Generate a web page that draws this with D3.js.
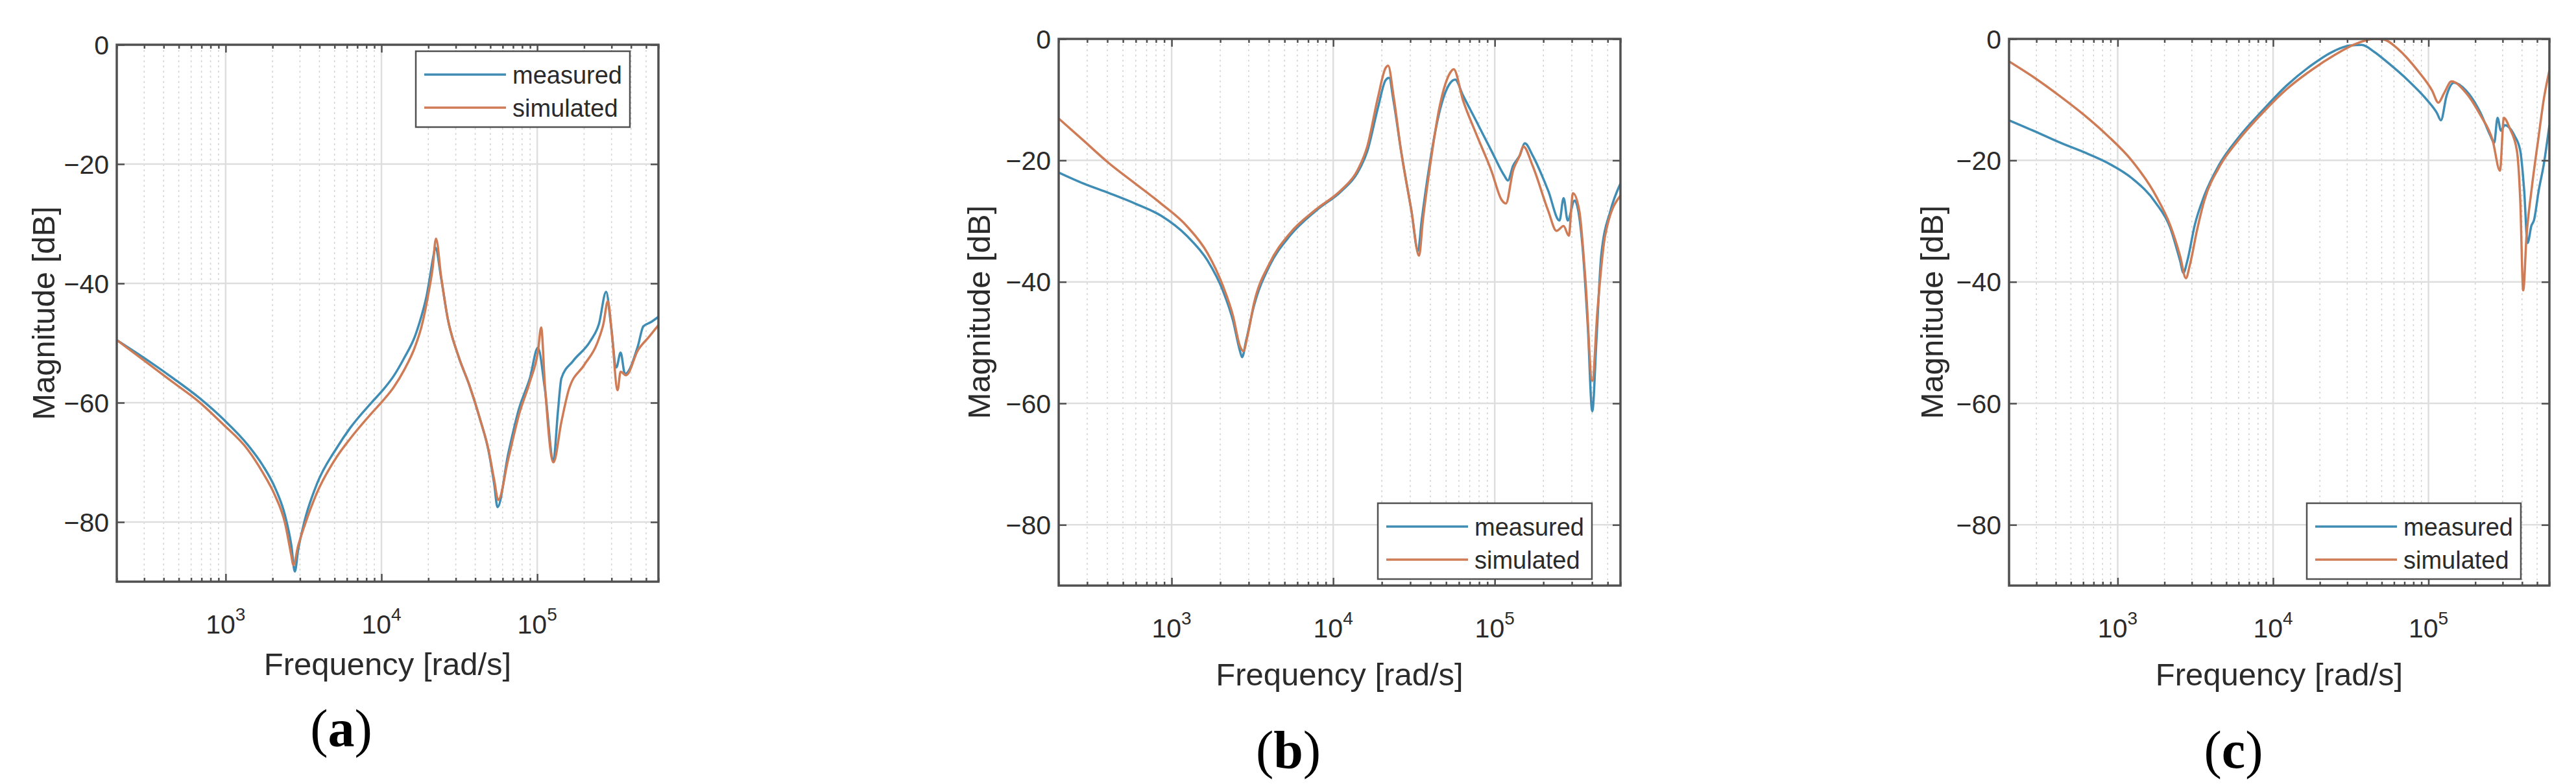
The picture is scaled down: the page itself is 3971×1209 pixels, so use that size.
<!DOCTYPE html>
<html>
<head>
<meta charset="utf-8">
<script src="https://d3js.org/d3.v7.min.js"></script>
<style>
html, body { margin: 0; padding: 0; background: #fff; }
svg { display: block; }
text { font-family: "Liberation Sans", Arial, Helvetica, sans-serif; fill: #2b2b2b; }
</style>
</head>
<body>
<svg id="chart" width="3971" height="1209"></svg>
<script>
// values (frequency in rad/s, magnitude in dB)
var freqMeasA = [200, 320, 460, 670, 960, 1390, 1730, 2070, 2400, 2640, 2780, 2920, 3220, 3870, 5190, 6310, 8690, 10200, 12000, 14000, 16500, 18100, 19600, 20600, 21600, 22200, 24200, 26600, 31300, 36600, 43000, 48800, 53000, 55600, 65100, 76400, 89700, 101000, 112000, 127000, 136000, 143000, 170000, 219000, 249000, 277000, 297000, 322000, 343000, 366000, 443000, 480000, 537000, 600000];
var magMeasA = [-49.5, -53.0, -55.9, -59.1, -62.7, -67.1, -70.5, -74.2, -78.8, -83.9, -88.3, -84.7, -79.7, -73.5, -67.5, -64.2, -59.9, -57.9, -55.5, -52.5, -48.7, -45.4, -41.8, -38.5, -35.3, -34.0, -39.2, -45.8, -52.3, -57.0, -62.8, -68.2, -73.7, -77.5, -68.6, -61.0, -55.9, -50.8, -57.7, -69.7, -61.3, -55.9, -53.0, -49.7, -46.8, -41.4, -46.8, -54.1, -51.6, -55.2, -50.5, -47.2, -46.5, -45.6];
var freqSimA = [200, 320, 460, 670, 960, 1390, 1730, 2070, 2400, 2640, 2720, 2920, 3220, 3870, 5190, 6310, 8690, 10200, 12000, 14000, 16500, 18100, 19900, 21300, 22400, 24200, 26600, 31300, 36600, 43000, 48800, 53000, 56200, 65100, 76400, 89700, 101000, 106000, 112000, 127000, 143000, 160000, 200000, 242000, 266000, 284000, 302000, 328000, 343000, 372000, 443000, 520000, 600000];
var magSimA = [-49.5, -53.5, -56.6, -59.8, -63.6, -67.9, -71.7, -75.5, -80.1, -85.6, -87.2, -84.0, -80.5, -75.0, -69.0, -66.0, -61.7, -59.7, -57.4, -54.5, -50.5, -47.2, -42.1, -37.5, -32.5, -39.0, -45.8, -52.3, -57.0, -62.8, -68.0, -73.0, -76.3, -69.5, -62.0, -56.5, -51.5, -47.4, -57.0, -70.0, -63.2, -57.7, -53.7, -50.1, -46.8, -43.0, -48.7, -57.9, -54.8, -55.4, -51.2, -49.0, -47.0];

var freqMeasB = [200, 284, 411, 594, 859, 1240, 1670, 2080, 2400, 2650, 2730, 2890, 3230, 4030, 5400, 7810, 11300, 14100, 16300, 18900, 21100, 22200, 23600, 26300, 30500, 33500, 35300, 39400, 45700, 52900, 56900, 63600, 76400, 95300, 114600, 120600, 129800, 142800, 153700, 171700, 214300, 251600, 266800, 283000, 311800, 349100, 376600, 401600, 425900, 456000, 520000, 600000];
var magMeasB = [-22.0, -23.8, -25.4, -27.1, -29.1, -32.4, -36.5, -41.5, -46.4, -51.4, -52.4, -49.7, -44.0, -37.4, -32.4, -28.3, -25.0, -22.1, -18.4, -11.4, -6.8, -6.4, -10.1, -18.4, -28.3, -34.9, -29.9, -20.9, -11.8, -7.3, -6.7, -9.3, -13.4, -18.4, -22.5, -23.3, -20.9, -19.2, -17.2, -19.2, -25.0, -29.9, -26.2, -29.9, -26.6, -34.1, -47.3, -61.3, -49.7, -35.7, -28.3, -23.8];
var freqSimB = [200, 284, 411, 594, 859, 1240, 1670, 2080, 2400, 2650, 2780, 2950, 3230, 4030, 5400, 7810, 11300, 14100, 16300, 18900, 21100, 21900, 23600, 26300, 30500, 34000, 35900, 39400, 45700, 52900, 55700, 63600, 76400, 95300, 110900, 117200, 129800, 142800, 150200, 171700, 214300, 241200, 266800, 287200, 304800, 333800, 364600, 401600, 432000, 482000, 600000];
var magSimB = [-13.1, -16.7, -20.5, -23.8, -27.1, -30.8, -35.3, -40.7, -45.6, -50.6, -51.4, -48.9, -43.6, -37.0, -32.0, -28.1, -24.8, -21.7, -17.6, -9.7, -4.8, -4.4, -9.3, -18.4, -28.3, -35.7, -29.9, -21.7, -11.0, -5.6, -5.0, -10.1, -15.5, -21.7, -26.6, -27.1, -21.7, -19.2, -17.7, -20.9, -28.3, -31.6, -30.8, -32.4, -25.4, -28.3, -39.8, -56.3, -44.8, -32.4, -25.8];

var freqMeasC = [200, 292, 419, 600, 859, 1230, 1760, 2180, 2520, 2650, 2810, 3130, 3610, 4480, 5970, 8550, 12200, 17500, 25100, 31100, 37200, 44600, 55300, 73700, 98200, 113400, 120200, 130900, 145900, 174600, 216400, 250000, 264800, 278200, 292600, 309800, 357400, 389600, 412700, 434100, 460200, 476700, 512600, 550800, 600000];
var magMeasC = [-13.4, -15.2, -17.0, -18.6, -20.4, -22.9, -27.0, -31.1, -36.5, -38.5, -36.5, -30.7, -25.8, -20.8, -16.3, -11.8, -7.7, -4.4, -1.9, -1.1, -1.0, -2.1, -4.0, -6.8, -10.1, -12.2, -13.4, -9.3, -7.2, -8.5, -12.2, -15.9, -17.1, -13.0, -15.1, -14.2, -15.9, -18.4, -24.9, -33.6, -30.7, -29.9, -24.9, -20.8, -14.2];
var freqSimC = [200, 292, 419, 600, 859, 1230, 1760, 2180, 2520, 2750, 2910, 3240, 3610, 4480, 5970, 8550, 12200, 17500, 25100, 33400, 44600, 51500, 63900, 85100, 105500, 115800, 126200, 140600, 174600, 216400, 258800, 288400, 305500, 333000, 370700, 389600, 407000, 427700, 460200, 512600, 550800, 600000];
var magSimC = [-3.7, -6.4, -9.3, -12.4, -15.9, -20.0, -25.8, -30.7, -35.7, -39.4, -37.3, -31.5, -26.6, -21.2, -16.7, -12.2, -8.3, -5.2, -2.6, -0.9, 0.0, -0.1, -1.7, -5.2, -8.5, -10.5, -8.9, -7.0, -8.9, -12.6, -16.7, -21.7, -13.0, -14.7, -18.4, -26.6, -41.4, -32.4, -24.9, -15.9, -10.1, -5.2];

var freqDomain = [200, 600000];
var magDomain = [-90, 0];
var xMajorTicks = [1e3, 1e4, 1e5];
var xTickExponents = ["3", "4", "5"];
var yTicks = [0, -20, -40, -60, -80];
var yTickLabels = ["0", "\u221220", "\u221240", "\u221260", "\u221280"];
var seriesNames = ["measured", "simulated"];
var seriesColors = ["#3f8db5", "#cf7b55"];
var panelLetters = ["a", "b", "c"];
var xAxisTitle = "Frequency [rad/s]";
var yAxisTitle = "Magnitude [dB]";

var panelSeries = [
  [[freqMeasA, magMeasA], [freqSimA, magSimA]],
  [[freqMeasB, magMeasB], [freqSimB, magSimB]],
  [[freqMeasC, magMeasC], [freqSimC, magSimC]]
];

var layout = [
  {left: 180, right: 1015, top: 69, bottom: 897, legend: "top", xlabelDy: 144, letterX: 526, letterY: 1151, ylabelOff: 96},
  {left: 1632, right: 2498, top: 60, bottom: 903, legend: "bottom", xlabelDy: 154, letterX: 1986, letterY: 1184, ylabelOff: 106},
  {left: 3097, right: 3930, top: 60, bottom: 903, legend: "bottom", xlabelDy: 154, letterX: 3443, letterY: 1184, ylabelOff: 102}
];

var svg = d3.select("#chart");
var defs = svg.append("defs");
var axisColor = "#505050";

function isDecade(t) {
  var l = Math.log10(t);
  return Math.abs(l - Math.round(l)) < 1e-9;
}

function styleTicks(sel) {
  sel.select(".domain").remove();
  sel.selectAll(".tick line").attr("stroke", axisColor).attr("stroke-width", 2.5);
}

function drawPanel(i) {
  var L = layout[i];
  var x = d3.scaleLog().domain(freqDomain).range([L.left, L.right]);
  var y = d3.scaleLinear().domain(magDomain).range([L.bottom, L.top]);
  var g = svg.append("g").attr("class", "panel-" + panelLetters[i]);

  defs.append("clipPath").attr("id", "clip" + i)
    .append("rect")
    .attr("x", L.left).attr("y", L.top)
    .attr("width", L.right - L.left).attr("height", L.bottom - L.top);

  // grid
  var minorTicks = x.ticks().filter(function(t) { return !isDecade(t); });
  g.selectAll(".minor-grid").data(minorTicks).enter().append("line")
    .attr("x1", function(d) { return x(d); }).attr("x2", function(d) { return x(d); })
    .attr("y1", L.top).attr("y2", L.bottom)
    .attr("stroke", "#d4d4d4").attr("stroke-width", 1.5).attr("stroke-dasharray", "3,5");
  g.selectAll(".major-xgrid").data(xMajorTicks).enter().append("line")
    .attr("x1", function(d) { return x(d); }).attr("x2", function(d) { return x(d); })
    .attr("y1", L.top).attr("y2", L.bottom)
    .attr("stroke", "#dedede").attr("stroke-width", 2.5);
  g.selectAll(".major-ygrid").data(yTicks).enter().append("line")
    .attr("x1", L.left).attr("x2", L.right)
    .attr("y1", function(d) { return y(d); }).attr("y2", function(d) { return y(d); })
    .attr("stroke", "#dedede").attr("stroke-width", 2.5);

  // curves
  var line = d3.line()
    .x(function(d) { return x(d[0]); })
    .y(function(d) { return y(d[1]); })
    .curve(d3.curveMonotoneX);
  var curves = g.append("g").attr("clip-path", "url(#clip" + i + ")");
  panelSeries[i].forEach(function(s, k) {
    var pts = d3.zip(s[0], s[1]);
    curves.append("path")
      .datum(pts)
      .attr("d", line)
      .attr("fill", "none")
      .attr("stroke", seriesColors[k])
      .attr("stroke-width", 3.5)
      .attr("stroke-linejoin", "round");
  });

  // ticks on all four sides, pointing in
  g.append("g").attr("transform", "translate(0," + L.bottom + ")")
    .call(d3.axisBottom(x).tickValues(minorTicks).tickSize(-6).tickFormat("")).call(styleTicks);
  g.append("g").attr("transform", "translate(0," + L.bottom + ")")
    .call(d3.axisBottom(x).tickValues(xMajorTicks).tickSize(-12).tickFormat("")).call(styleTicks);
  g.append("g").attr("transform", "translate(0," + L.top + ")")
    .call(d3.axisTop(x).tickValues(minorTicks).tickSize(-6).tickFormat("")).call(styleTicks);
  g.append("g").attr("transform", "translate(0," + L.top + ")")
    .call(d3.axisTop(x).tickValues(xMajorTicks).tickSize(-12).tickFormat("")).call(styleTicks);
  g.append("g").attr("transform", "translate(" + L.left + ",0)")
    .call(d3.axisLeft(y).tickValues(yTicks).tickSize(-12).tickFormat("")).call(styleTicks);
  g.append("g").attr("transform", "translate(" + L.right + ",0)")
    .call(d3.axisRight(y).tickValues(yTicks).tickSize(-12).tickFormat("")).call(styleTicks);

  // box
  g.append("rect")
    .attr("x", L.left).attr("y", L.top)
    .attr("width", L.right - L.left).attr("height", L.bottom - L.top)
    .attr("fill", "none").attr("stroke", axisColor).attr("stroke-width", 3.5);

  // tick labels
  var xl = g.selectAll(".xtick-label").data(xMajorTicks).enter().append("text")
    .attr("x", function(d) { return x(d); })
    .attr("y", L.bottom + 80)
    .attr("text-anchor", "middle")
    .attr("font-size", 41);
  xl.append("tspan").text("10");
  xl.append("tspan").attr("font-size", 28).attr("dy", -20)
    .text(function(d, j) { return xTickExponents[j]; });

  g.selectAll(".ytick-label").data(yTicks).enter().append("text")
    .attr("x", L.left - 12)
    .attr("y", function(d) { return y(d); })
    .attr("dy", "0.36em")
    .attr("text-anchor", "end")
    .attr("font-size", 41)
    .text(function(d, j) { return yTickLabels[j]; });

  // axis titles
  g.append("text")
    .attr("x", (L.left + L.right) / 2)
    .attr("y", L.bottom + L.xlabelDy)
    .attr("text-anchor", "middle")
    .attr("font-size", 49)
    .text(xAxisTitle);
  var cy = (L.top + L.bottom) / 2;
  g.append("text")
    .attr("transform", "translate(" + (L.left - L.ylabelOff) + "," + cy + ") rotate(-90)")
    .attr("text-anchor", "middle")
    .attr("font-size", 49)
    .text(yAxisTitle);

  // legend
  var lw = 330, lh = 117;
  var lx = L.right - 44 - lw;
  var ly = L.legend === "top" ? L.top + 10 : L.bottom - 10 - lh;
  var leg = g.append("g").attr("transform", "translate(" + lx + "," + ly + ")");
  leg.append("rect").attr("width", lw).attr("height", lh)
    .attr("fill", "#fff").attr("stroke", axisColor).attr("stroke-width", 2.5);
  seriesNames.forEach(function(name, k) {
    var ry = 36 + k * 51;
    leg.append("line").attr("x1", 13).attr("x2", 139).attr("y1", ry).attr("y2", ry)
      .attr("stroke", seriesColors[k]).attr("stroke-width", 3.5);
    leg.append("text").attr("x", 149).attr("y", ry).attr("dy", "0.36em")
      .attr("font-size", 38).text(name);
  });

  // panel letter
  var lt = svg.append("text")
    .attr("x", L.letterX).attr("y", L.letterY)
    .attr("text-anchor", "middle")
    .attr("font-size", 82)
    .style("font-family", "'Palatino Linotype', 'Book Antiqua', 'Liberation Serif', serif")
    .style("fill", "#000");
  lt.append("tspan").text("(");
  lt.append("tspan").attr("font-weight", "bold").text(panelLetters[i]);
  lt.append("tspan").text(")");
}

for (var i = 0; i < layout.length; i++) {
  drawPanel(i);
}
</script>
</body>
</html>
